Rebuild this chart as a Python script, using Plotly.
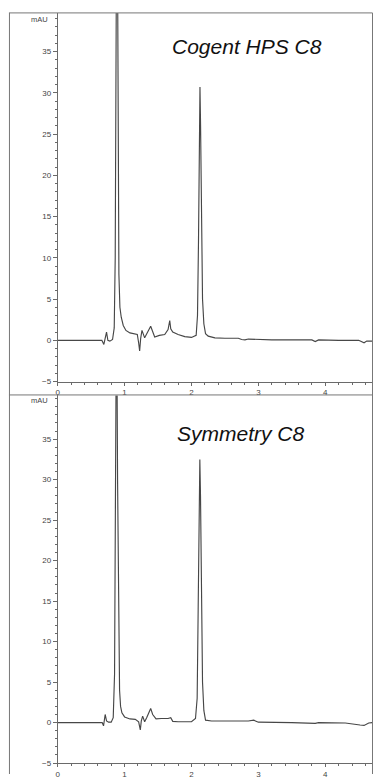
import plotly.graph_objects as go

# ---- data ----
time_top = [0, 0.60, 0.66, 0.69, 0.71, 0.73, 0.75, 0.78, 0.82, 0.845, 0.86, 0.875, 0.885, 0.895,
            0.905, 0.915, 0.93, 0.95, 0.98, 1.02, 1.08, 1.15, 1.19, 1.21, 1.225, 1.24, 1.26, 1.30,
            1.34, 1.39, 1.45, 1.52, 1.60, 1.65, 1.675, 1.69, 1.72, 1.80, 1.90, 2.00, 2.07, 2.09,
            2.105, 2.118, 2.127, 2.136, 2.148, 2.165, 2.185, 2.21, 2.25, 2.35, 2.5, 2.7, 2.75,
            2.80, 2.85, 3.0, 3.2, 3.5, 3.8, 3.85, 3.9, 4.2, 4.5, 4.58, 4.62, 4.7]
mau_top = [0, 0, 0, -0.5, 0.3, 1.0, 0.0, -0.1, 0.1, 1.5, 10, 45, 60, 45,
           20, 8, 4, 2.8, 1.8, 1.2, 0.9, 0.8, 0.7, -0.3, -1.3, 0.2, 1.2, 0.3,
           1.0, 1.7, 0.4, 0.6, 0.7, 1.3, 2.4, 1.4, 1.0, 0.7, 0.45, 0.35, 0.6, 3,
           12, 26, 30.7, 26, 14, 5, 2, 0.8, 0.5, 0.3, 0.25, 0.25, 0.1,
           0.05, 0.15, 0.1, 0.05, 0.05, 0.05, -0.15, 0.05, 0.0, 0.0, -0.3, -0.1, -0.1]

time_bot = [0, 0.62, 0.665, 0.685, 0.70, 0.71, 0.73, 0.76, 0.80, 0.83, 0.85, 0.865, 0.88, 0.895,
            0.91, 0.925, 0.94, 0.96, 1.00, 1.08, 1.16, 1.21, 1.235, 1.25, 1.27, 1.30, 1.33, 1.37,
            1.39, 1.42, 1.47, 1.55, 1.65, 1.69, 1.72, 1.80, 2.00, 2.06, 2.085, 2.10, 2.115, 2.125,
            2.135, 2.15, 2.165, 2.185, 2.21, 2.30, 2.60, 2.85, 2.93, 3.0, 3.5, 3.85, 3.9, 4.3,
            4.52, 4.58, 4.65, 4.7]
mau_bot = [0, 0, 0, -0.4, 0.3, 1.0, 0.2, 0.05, 0.05, 0.6, 6, 30, 55, 30,
           10, 4, 2, 1.2, 0.7, 0.45, 0.4, 0.1, -0.9, 0.2, 0.8, 0.1, 0.6, 1.5,
           1.75, 1.0, 0.45, 0.5, 0.5, 0.6, 0.15, 0.1, 0.1, 0.5, 3, 14, 29, 32.5,
           28, 15, 5, 1.5, 0.3, 0.2, 0.15, 0.2, 0.3, 0.05, 0.0, -0.1, 0.0, -0.05,
           -0.3, -0.35, -0.05, 0.0]

x_ticks = [0, 1, 2, 3, 4]
y_ticks = [-5, 0, 5, 10, 15, 20, 25, 30, 35]
titles = ["Cogent HPS C8", "Symmetry C8"]
unit_label = "mAU"

W, H = 373, 779
def py(p):
    return 1 - p / H

FONT = "Liberation Sans, Arial, sans-serif"
LINE = "#474747"
AX = "#6a6a6a"

fig = go.Figure()
fig.add_trace(go.Scatter(x=time_top, y=mau_top, mode="lines", xaxis="x", yaxis="y",
                         line=dict(color=LINE, width=1.15), showlegend=False))
fig.add_trace(go.Scatter(x=time_bot, y=mau_bot, mode="lines", xaxis="x2", yaxis="y2",
                         line=dict(color=LINE, width=1.15), showlegend=False))

xdom = [56 / W, 372.5 / W]
xr = [0, (372.5 - 56) / 67.25]

def xaxis(anchor):
    return dict(domain=xdom, range=xr, anchor=anchor, showgrid=False, zeroline=False,
                showline=True, linecolor=AX, linewidth=1,
                tickmode="array", tickvals=x_ticks, ticks="outside", ticklen=3,
                tickcolor=AX, tickwidth=1,
                tickfont=dict(family=FONT, size=8, color="#444"),
                minor=dict(tickmode="linear", tick0=0, dtick=0.2, ticks="outside",
                           ticklen=2, tickcolor=AX, tickwidth=1))

def yaxis(anchor, dom, rng):
    return dict(domain=dom, range=rng, anchor=anchor, showgrid=False, zeroline=False,
                showline=True, linecolor=AX, linewidth=1,
                tickmode="array", tickvals=y_ticks, ticks="outside", ticklen=4,
                tickcolor=AX, tickwidth=1,
                tickfont=dict(family=FONT, size=8, color="#444"),
                minor=dict(tickmode="linear", tick0=0, dtick=1, ticks="outside",
                           ticklen=2, tickcolor=AX, tickwidth=1))

fig.update_layout(
    width=W, height=H, autosize=False,
    margin=dict(l=0, r=0, t=0, b=0),
    paper_bgcolor="white", plot_bgcolor="white",
    xaxis=xaxis("y"),
    yaxis=yaxis("x", [py(384), py(13)], [-5, -5 + 371 / 8.3]),
    xaxis2=xaxis("y2"),
    yaxis2=yaxis("x2", [py(768), py(398)], [-5, -5 + 370 / 8.15]),
)

# frame lines
frame = dict(color="#777777", width=1)
fig.add_shape(type="line", xref="paper", yref="paper", x0=7 / W, x1=372.5 / W, y0=py(13), y1=py(13), line=frame)
fig.add_shape(type="line", xref="paper", yref="paper", x0=7 / W, x1=372.5 / W, y0=py(397.5), y1=py(397.5), line=frame)
fig.add_shape(type="line", xref="paper", yref="paper", x0=7.5 / W, x1=7.5 / W, y0=0, y1=py(13), line=frame)
fig.add_shape(type="line", xref="paper", yref="paper", x0=372.5 / W, x1=372.5 / W, y0=0, y1=py(13), line=frame)

# titles
for txt, cx, cy in [(titles[0], 246, 47), (titles[1], 240, 436)]:
    fig.add_annotation(text=txt, xref="paper", yref="paper", x=cx / W, y=py(cy),
                       xanchor="center", yanchor="middle", showarrow=False,
                       font=dict(family=FONT, size=21, color="#111", style="italic"))

# unit labels
for cy in [19.5, 403.5]:
    fig.add_annotation(text=unit_label, xref="paper", yref="paper", x=48 / W, y=py(cy),
                       xanchor="right", yanchor="middle", showarrow=False,
                       font=dict(family=FONT, size=7.5, color="#444"))

fig.write_html("out.html", config={"displayModeBar": False},
               post_script="document.body.style.margin='0';document.body.style.padding='0';"
                           "document.body.style.overflow='hidden';")
